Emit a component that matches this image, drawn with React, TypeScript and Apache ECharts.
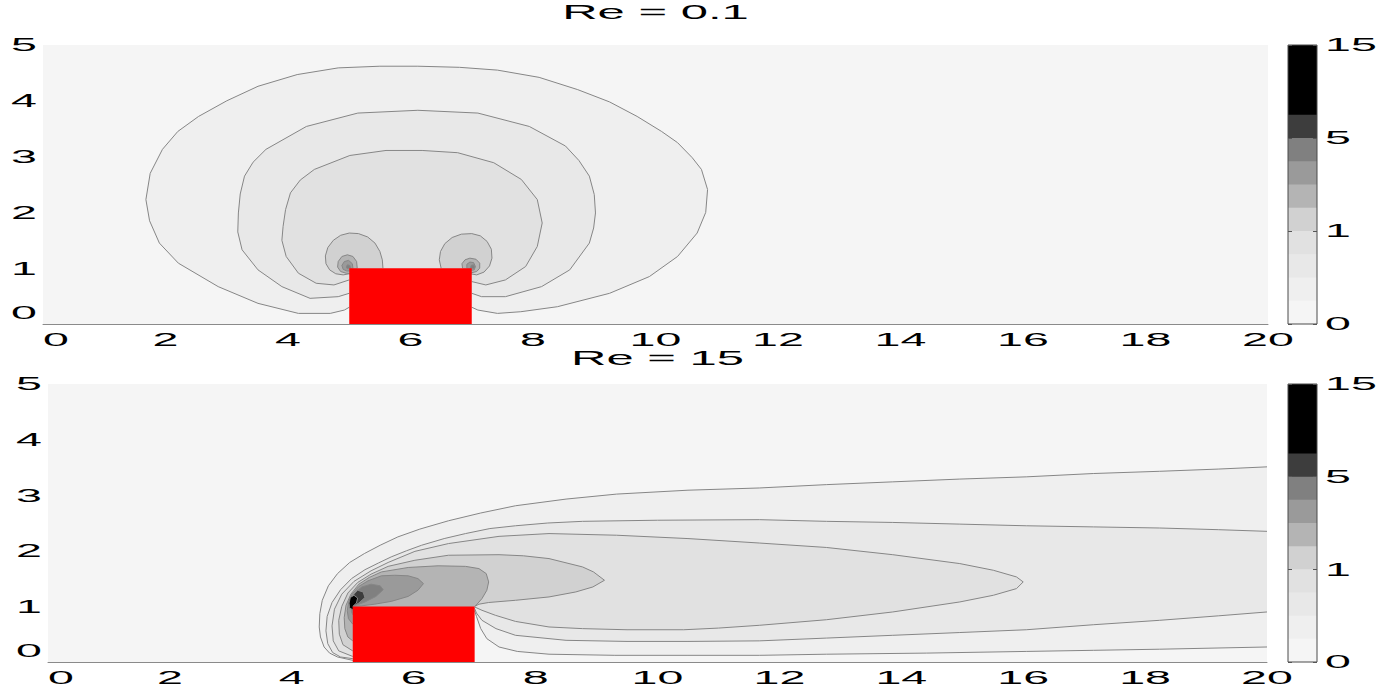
import React, { useEffect, useRef } from 'react';
import * as echarts from 'echarts';

// Axis ticks shared by both panels
const xTicks = [0, 2, 4, 6, 8, 10, 12, 14, 16, 18, 20];
const yTicks = [0, 1, 2, 3, 4, 5];
const xRange = [0, 20];
const yRange = [0, 5];

// Contour levels and the grey used for each interval between consecutive levels
const contourLevels = [0, 0.25, 0.5, 0.75, 1, 2, 3, 4, 5, 7.5, 10, 12.5, 15];
const colorbarTicks = [0, 1, 5, 15];
const bandColors = [
  '#f5f5f5', '#efefef', '#e8e8e8', '#e1e1e1', '#d1d1d1', '#b4b4b4',
  '#9a9a9a', '#808080', '#3d3d3d', '#000000', '#000000', '#000000',
];

const reynolds = [0.1, 15];

// Square obstacle: lower-left and upper-right corners
const obstacle = [[5, 0], [7, 1]];

// ---- Re = 0.1 contour lines (x, y) ----
const lowRe025 = [
  [5.0, 0.3], [4.92, 0.25], [4.69, 0.19], [4.17, 0.19], [3.51, 0.37], [2.86, 0.67], [2.21, 1.09],
  [1.9, 1.45], [1.74, 1.85], [1.68, 2.23], [1.75, 2.7], [1.95, 3.13], [2.2, 3.45], [2.54, 3.72],
  [3.0, 4.0], [3.51, 4.26], [4.15, 4.47], [4.82, 4.59], [5.5, 4.62], [6.12, 4.62], [6.8, 4.6],
  [7.42, 4.55], [8.1, 4.42], [8.73, 4.2], [9.25, 3.98], [9.7, 3.72], [10.1, 3.45], [10.36, 3.25],
  [10.6, 2.98], [10.75, 2.77], [10.85, 2.41], [10.82, 2.0], [10.68, 1.63], [10.36, 1.21], [9.9, 0.85],
  [9.25, 0.55], [8.4, 0.31], [7.8, 0.22], [7.42, 0.19], [7.1, 0.25], [7.0, 0.3],
];
const lowRe050 = [
  [5.0, 0.55], [4.82, 0.49], [4.36, 0.46], [3.9, 0.67], [3.51, 0.97], [3.25, 1.33], [3.18, 1.65],
  [3.19, 1.99], [3.22, 2.33], [3.29, 2.65], [3.43, 2.9], [3.64, 3.13], [4.3, 3.54], [5.14, 3.78],
  [6.12, 3.83], [7.1, 3.78], [7.94, 3.54], [8.53, 3.19], [8.75, 2.93], [8.92, 2.65], [9.0, 2.32],
  [9.02, 1.99], [8.99, 1.72], [8.92, 1.45], [8.6, 0.97], [8.14, 0.67], [7.55, 0.49], [7.16, 0.49],
  [7.0, 0.55],
];
const lowRe075 = [
  [5.0, 0.79], [4.75, 0.7], [4.46, 0.73], [4.17, 0.91], [3.97, 1.21], [3.9, 1.5], [3.92, 1.75],
  [3.96, 2.05], [4.04, 2.35], [4.2, 2.58], [4.43, 2.77], [5.01, 3.02], [5.6, 3.11], [6.19, 3.11],
  [6.77, 3.07], [7.36, 2.89], [7.81, 2.59], [8.07, 2.23], [8.15, 1.81], [8.07, 1.39], [7.88, 1.03],
  [7.55, 0.79], [7.23, 0.7], [7.0, 0.76],
];
const lowRe1Left = [
  [5.55, 1.0], [5.54, 1.15], [5.5, 1.3], [5.42, 1.45], [5.3, 1.56], [5.15, 1.62], [5.0, 1.63],
  [4.86, 1.59], [4.74, 1.5], [4.65, 1.37], [4.61, 1.22], [4.62, 1.08], [4.68, 0.97], [4.78, 0.9],
  [4.9, 0.88], [5.0, 0.9], [5.1, 0.8],
];
const lowRe1Right = [
  [6.5, 1.0], [6.47, 1.15], [6.49, 1.3], [6.56, 1.44], [6.68, 1.55], [6.83, 1.61], [7.0, 1.62],
  [7.14, 1.58], [7.25, 1.48], [7.32, 1.34], [7.33, 1.18], [7.29, 1.04], [7.2, 0.93], [7.08, 0.88],
  [6.98, 0.9], [6.9, 0.8],
];
const lowRe2Left = [
  [5.13, 1.0], [5.12, 1.12], [5.06, 1.21], [4.97, 1.24], [4.88, 1.21], [4.82, 1.12], [4.81, 1.02],
  [4.86, 0.94], [4.95, 0.91], [5.05, 0.9],
];
const lowRe2Right = [
  [6.85, 1.0], [6.84, 1.08], [6.89, 1.15], [6.97, 1.18], [7.07, 1.16], [7.13, 1.09], [7.13, 1.0],
  [7.08, 0.94], [7.0, 0.92], [6.92, 0.95],
];
const lowRe3Left = [
  [5.06, 1.0], [5.05, 1.08], [4.99, 1.14], [4.92, 1.12], [4.88, 1.05], [4.9, 0.98], [4.96, 0.95], [5.02, 0.95],
];
const lowRe3Right = [
  [6.92, 1.0], [6.92, 1.07], [6.97, 1.11], [7.03, 1.1], [7.06, 1.03], [7.04, 0.97], [6.98, 0.96],
];
const lowRe4Left = [[5.02, 1.0], [5.01, 1.05], [4.97, 1.06], [4.95, 1.02], [4.97, 0.99]];
const lowRe4Right = [[6.98, 1.0], [6.99, 1.05], [7.03, 1.06], [7.05, 1.02], [7.03, 0.99]];

// [level index, line]
const lowReContours: [number, number[][]][] = [
  [1, lowRe025], [2, lowRe050], [3, lowRe075],
  [4, lowRe1Left], [4, lowRe1Right], [5, lowRe2Left], [5, lowRe2Right],
  [6, lowRe3Left], [6, lowRe3Right], [7, lowRe4Left], [7, lowRe4Right],
];

// ---- Re = 15 contour lines (x, y) ----
const highRe025 = [
  [20, 0.27], [18.24, 0.23], [17.15, 0.21], [16.05, 0.19], [14.41, 0.16], [12.77, 0.14], [11.67, 0.12],
  [10.5, 0.12], [9.3, 0.12], [8.22, 0.14], [7.7, 0.19], [7.4, 0.27], [7.2, 0.42], [7.1, 0.6],
  [7.03, 0.82], [7.0, 0.92],
  [5.0, 0.03], [4.75, 0.09], [4.62, 0.16], [4.53, 0.27], [4.47, 0.45], [4.45, 0.63], [4.46, 0.87],
  [4.5, 1.11], [4.6, 1.37], [4.75, 1.59], [4.95, 1.79], [5.19, 1.95], [5.45, 2.1], [5.74, 2.25],
  [6.1, 2.39], [6.57, 2.54], [7.1, 2.68], [7.67, 2.81], [8.5, 2.93], [9.33, 3.02], [10.5, 3.09],
  [11.67, 3.13], [12.77, 3.19], [13.86, 3.24], [14.96, 3.29], [16.05, 3.33], [17.15, 3.39],
  [18.24, 3.43], [19.2, 3.47], [20, 3.51],
];
const highRe050 = [
  [20, 0.9], [19.2, 0.83], [18.24, 0.75], [17.15, 0.67], [16.05, 0.58], [14.96, 0.53], [13.86, 0.48],
  [12.77, 0.43], [11.67, 0.38], [10.5, 0.37], [9.5, 0.37], [8.5, 0.39], [7.67, 0.48], [7.35, 0.6],
  [7.12, 0.75], [7.03, 0.88], [7.0, 0.96],
  [5.0, 0.06], [4.8, 0.09], [4.67, 0.17], [4.59, 0.33], [4.56, 0.56], [4.58, 0.82], [4.66, 1.07],
  [4.8, 1.3], [4.98, 1.5], [5.2, 1.66], [5.42, 1.78], [5.63, 1.89], [5.88, 2.0], [6.13, 2.1],
  [6.5, 2.22], [6.85, 2.31], [7.25, 2.4], [7.67, 2.45], [8.2, 2.5], [8.77, 2.53], [10.0, 2.55],
  [11.67, 2.56], [12.77, 2.53], [13.86, 2.51], [14.96, 2.48], [16.05, 2.45], [17.15, 2.43],
  [18.24, 2.41], [19.2, 2.38], [20, 2.35],
];
const highRe075 = [
  [7.0, 0.99], [7.12, 0.93], [7.34, 0.84], [7.67, 0.73], [8.22, 0.63], [8.77, 0.6], [9.5, 0.58],
  [10.43, 0.58], [11.0, 0.61], [11.67, 0.66], [12.77, 0.76], [13.86, 0.9], [14.96, 1.08], [15.51, 1.2],
  [15.89, 1.32], [16.0, 1.44], [15.89, 1.53], [15.51, 1.65], [14.96, 1.77], [13.86, 1.93],
  [12.77, 2.06], [11.67, 2.14], [10.5, 2.22], [9.33, 2.28], [8.22, 2.31], [7.4, 2.26], [6.57, 2.13],
  [6.02, 1.99], [5.58, 1.79], [5.3, 1.64], [5.02, 1.45], [4.82, 1.22], [4.7, 0.95], [4.66, 0.65],
  [4.68, 0.38], [4.77, 0.2], [5.0, 0.1],
];
const highRe1 = [
  [7.0, 1.0], [7.07, 1.04], [7.23, 1.07], [7.67, 1.11], [8.22, 1.17], [8.66, 1.26], [8.94, 1.35],
  [9.13, 1.47], [8.95, 1.62], [8.77, 1.71], [8.22, 1.86], [7.8, 1.91], [7.4, 1.93], [6.57, 1.92],
  [6.02, 1.83], [5.58, 1.72], [5.3, 1.58], [5.08, 1.43], [4.92, 1.24], [4.82, 1.0], [4.77, 0.75],
  [4.78, 0.5], [4.84, 0.31], [5.0, 0.2],
];
const highRe2 = [
  [7.0, 1.0], [7.04, 1.04], [7.12, 1.14], [7.2, 1.29], [7.23, 1.44], [7.19, 1.59], [7.07, 1.68],
  [6.85, 1.72], [6.4, 1.73], [5.91, 1.7], [5.47, 1.62], [5.27, 1.52], [5.1, 1.4], [4.97, 1.22],
  [4.89, 1.02], [4.86, 0.8], [4.87, 0.6], [4.92, 0.45], [5.0, 0.38],
];
const highRe3 = [
  [5.0, 1.0], [5.14, 1.01], [5.36, 1.04], [5.63, 1.09], [5.91, 1.18], [6.07, 1.29], [6.16, 1.41],
  [6.07, 1.5], [5.91, 1.55], [5.69, 1.56], [5.47, 1.55], [5.25, 1.46], [5.1, 1.36], [4.99, 1.22],
  [4.93, 1.07], [4.91, 0.92], [4.93, 0.78], [5.0, 0.68],
];
const highRe4 = [
  [5.0, 1.0], [5.2, 1.08], [5.38, 1.18], [5.5, 1.3], [5.45, 1.37], [5.3, 1.4], [5.15, 1.35],
  [5.05, 1.26], [4.99, 1.13], [4.97, 1.0], [4.98, 0.9], [5.0, 0.85],
];
const highRe5 = [
  [5.0, 1.0], [5.1, 1.06], [5.2, 1.16], [5.17, 1.26], [5.08, 1.29], [5.02, 1.22], [4.99, 1.1],
  [4.98, 0.98], [5.0, 0.92],
];
const highRe75 = [
  [5.0, 1.0], [5.06, 1.06], [5.08, 1.15], [5.02, 1.2], [4.96, 1.16], [4.94, 1.06], [4.95, 0.97], [5.0, 0.94],
];

const highReContours: [number, number[][]][] = [
  [1, highRe025], [2, highRe050], [3, highRe075], [4, highRe1], [5, highRe2],
  [6, highRe3], [7, highRe4], [8, highRe5], [9, highRe75],
];

// Text rendering: a horizontally stretched sans face
const FONT = 'Liberation Sans';
const TEXT_STRETCH = 2.45;
const titleY = [12, 358];

function panelSeries(panel: number, contours: [number, number[][]][]) {
  type Item = { kind: 'bg' | 'line' | 'box'; level?: number; pts?: number[][] };
  const items: Item[] = [
    { kind: 'bg' },
    ...contours.map(([level, pts]) => ({ kind: 'line' as const, level, pts })),
    { kind: 'box' },
  ];
  return {
    type: 'custom',
    coordinateSystem: 'cartesian2d',
    xAxisIndex: panel,
    yAxisIndex: panel,
    silent: true,
    clip: true,
    data: items.map((_, i) => [i, 0]),
    renderItem: (params: any, api: any) => {
      const it = items[params.dataIndex];
      const z2 = params.dataIndex * 2;
      if (it.kind === 'bg') {
        const corners = [
          [xRange[0], yRange[0]], [xRange[1], yRange[0]], [xRange[1], yRange[1]], [xRange[0], yRange[1]],
        ].map((p) => api.coord(p));
        return { type: 'polygon', z2, shape: { points: corners }, style: { fill: bandColors[0] } };
      }
      if (it.kind === 'box') {
        const [a, b] = obstacle;
        const corners = [[a[0], a[1]], [b[0], a[1]], [b[0], b[1]], [a[0], b[1]]].map((p) => api.coord(p));
        return { type: 'polygon', z2: 1000, shape: { points: corners }, style: { fill: '#ff0000' } };
      }
      const pts = (it.pts as number[][]).map((p) => api.coord(p));
      return {
        type: 'group',
        children: [
          { type: 'polygon', z2, shape: { points: pts }, style: { fill: bandColors[it.level as number] } },
          {
            type: 'polyline', z2: z2 + 1, shape: { points: pts },
            style: { stroke: '#868686', lineWidth: 1, fill: 'none' },
          },
        ],
      };
    },
  };
}

// Colour bar: each band is painted from its own lower level up to the top,
// later (higher) bands covering the upper part, so no seams appear between them.
function colorbarSeries(xIdx: number, yIdx: number) {
  const n = bandColors.length;
  return {
    type: 'custom',
    coordinateSystem: 'cartesian2d',
    xAxisIndex: xIdx,
    yAxisIndex: yIdx,
    silent: true,
    data: bandColors.map((_, i) => [0, i]),
    renderItem: (params: any, api: any) => {
      const i = params.dataIndex;
      const a = api.coord([0, n]);
      const b = api.coord([1, i]);
      const band = {
        type: 'rect', z2: i,
        shape: { x: a[0], y: a[1], width: b[0] - a[0], height: b[1] - a[1] },
        style: { fill: bandColors[i] },
      };
      if (i !== n - 1) return band;
      const top = api.coord([0, n]);
      const bottom = api.coord([1, 0]);
      return {
        type: 'group',
        children: [
          band,
          {
            type: 'rect', z2: 100,
            shape: { x: top[0], y: top[1], width: bottom[0] - top[0], height: bottom[1] - top[1] },
            style: { fill: 'none', stroke: '#4a4a4a', lineWidth: 1 },
          },
        ],
      };
    },
  };
}

const plotX = (grid: number) => ({
  type: 'value', gridIndex: grid, min: xRange[0], max: xRange[1], interval: 2, z: 10,
  axisLine: { show: true, lineStyle: { color: '#8a8a8a', width: 1 } },
  axisTick: { show: false }, axisLabel: { show: false }, splitLine: { show: false },
});
const plotY = (grid: number) => ({
  type: 'value', gridIndex: grid, min: yRange[0], max: yRange[1], interval: 1,
  axisLine: { show: false }, axisTick: { show: false }, axisLabel: { show: false }, splitLine: { show: false },
});
const cbX = (grid: number) => ({ type: 'value', gridIndex: grid, min: 0, max: 1, show: false });
const cbY = (grid: number, position: 'left' | 'right') => ({
  type: 'value', gridIndex: grid, position, min: 0, max: bandColors.length, interval: 4, z: 10,
  axisLine: { show: false },
  axisTick: { show: true, inside: true, length: 4, lineStyle: { color: '#555', width: 1 } },
  axisLabel: { show: false }, splitLine: { show: false },
});

function textEl(text: string, x: number, y: number, align: string, vAlign: string, size: number) {
  return {
    type: 'text', x, y, scaleX: TEXT_STRETCH, silent: true, z: 20,
    style: {
      text, fill: '#000', fontFamily: FONT, fontSize: size,
      align, verticalAlign: vAlign, textAlign: align, textVerticalAlign: vAlign,
    },
  };
}

export default function App() {
  const ref = useRef<HTMLDivElement>(null);

  useEffect(() => {
    if (!ref.current) return;
    const chart = echarts.init(ref.current, null, { renderer: 'svg' });
    chart.setOption({
      animation: false,
      backgroundColor: '#ffffff',
      grid: [
        { left: 43, top: 45, width: 1225, height: 279 },
        { left: 48, top: 384, width: 1219, height: 278 },
        { left: 1288, top: 45, width: 29, height: 279 },
        { left: 1288, top: 384, width: 29, height: 278 },
      ],
      xAxis: [plotX(0), plotX(1), cbX(2), cbX(3)],
      yAxis: [plotY(0), plotY(1), cbY(2, 'left'), cbY(2, 'right'), cbY(3, 'left'), cbY(3, 'right')],
      series: [
        panelSeries(0, lowReContours),
        panelSeries(1, highReContours),
        colorbarSeries(2, 2),
        colorbarSeries(3, 4),
      ],
    });

    // Tick labels, colour bar labels and titles, placed through the axes' own scales
    const els: any[] = [];
    [0, 1].forEach((panel) => {
      const finder = { xAxisIndex: panel, yAxisIndex: panel };
      xTicks.forEach((v, i) => {
        const [px, py] = chart.convertToPixel(finder, [v, yRange[0]]) as number[];
        els.push(textEl(String(v), px, py + 6, i === 0 ? 'left' : 'center', 'top', 19));
      });
      yTicks.forEach((v, i) => {
        const [px, py] = chart.convertToPixel(finder, [xRange[0], v]) as number[];
        els.push(textEl(String(v), px - 6, i === 0 ? py - 2 : py, 'right', i === 0 ? 'bottom' : 'middle', 19));
      });
      const cbFinder = { xAxisIndex: 2 + panel, yAxisIndex: 2 + panel * 2 };
      colorbarTicks.forEach((v) => {
        const idx = contourLevels.indexOf(v);
        const [px, py] = chart.convertToPixel(cbFinder, [1, idx]) as number[];
        els.push(textEl(String(v), px + 8, py, 'left', 'middle', 19));
      });
      const [tx] = chart.convertToPixel(finder, [(xRange[0] + xRange[1]) / 2, yRange[1]]) as number[];
      els.push(textEl(`Re = ${reynolds[panel]}`, tx, titleY[panel], 'center', 'middle', 20));
    });
    chart.setOption({ graphic: els });

    return () => chart.dispose();
  }, []);

  return (
    <div
      ref={ref}
      style={{ position: 'fixed', left: 0, top: 0, width: '1392px', height: '687px', background: '#fff' }}
    />
  );
}
